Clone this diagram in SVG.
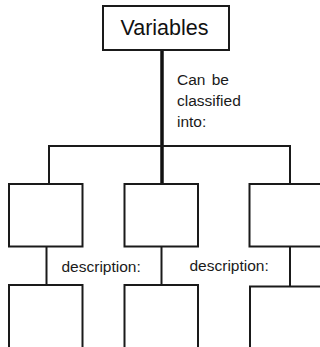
<svg xmlns="http://www.w3.org/2000/svg" width="320" height="347" viewBox="0 0 320 347">
  <style>
    .box { fill: #ffffff; stroke: #1a1a1a; stroke-width: 2; }
    .wire { stroke: #1a1a1a; stroke-width: 2; fill: none; }
    .trunk { stroke: #111111; stroke-width: 3.5; fill: none; }
    .label { font-family: "Liberation Sans", Arial, sans-serif; font-size: 15.5px; fill: #1a1a1a; }
    .title { font-family: "Liberation Sans", Arial, sans-serif; font-size: 21.5px; fill: #111111; }
  </style>
  <rect width="320" height="347" fill="#ffffff"/>

  <!-- connectors -->
  <g id="connectors">
    <line class="trunk" x1="162" y1="50" x2="162" y2="185"/>
    <polyline class="wire" points="49,185 49,146 290,146 290,185"/>
    <line class="wire" x1="46.5" y1="246" x2="46.5" y2="286"/>
    <line class="wire" x1="161.5" y1="246" x2="161.5" y2="286"/>
    <line class="wire" x1="290" y1="246" x2="290" y2="287"/>
  </g>

  <!-- root node -->
  <g id="variables">
    <rect class="box" x="103" y="6" width="126" height="44"/>
    <text class="title" x="164.5" y="35" text-anchor="middle">Variables</text>
  </g>

  <g id="classify-label">
    <text class="label" x="177" y="85" word-spacing="2">Can be</text>
    <text class="label" x="177" y="106">classified</text>
    <text class="label" x="177" y="127">into:</text>
  </g>

  <!-- category row -->
  <g id="category-1"><rect class="box" x="9" y="184" width="73.5" height="62.5"/></g>
  <g id="category-2"><rect class="box" x="124.5" y="184" width="73.5" height="62.5"/></g>
  <g id="category-3"><rect class="box" x="249.5" y="184" width="80" height="62.5"/></g>

  <g id="description-labels">
    <text class="label" x="61.5" y="271.5">description:</text>
    <text class="label" x="189.5" y="270.5">description:</text>
  </g>

  <!-- description row -->
  <g id="description-1"><rect class="box" x="9" y="285" width="73.5" height="70"/></g>
  <g id="description-2"><rect class="box" x="124.5" y="285" width="73.5" height="70"/></g>
  <g id="description-3"><rect class="box" x="250" y="286.5" width="80" height="70"/></g>
</svg>
